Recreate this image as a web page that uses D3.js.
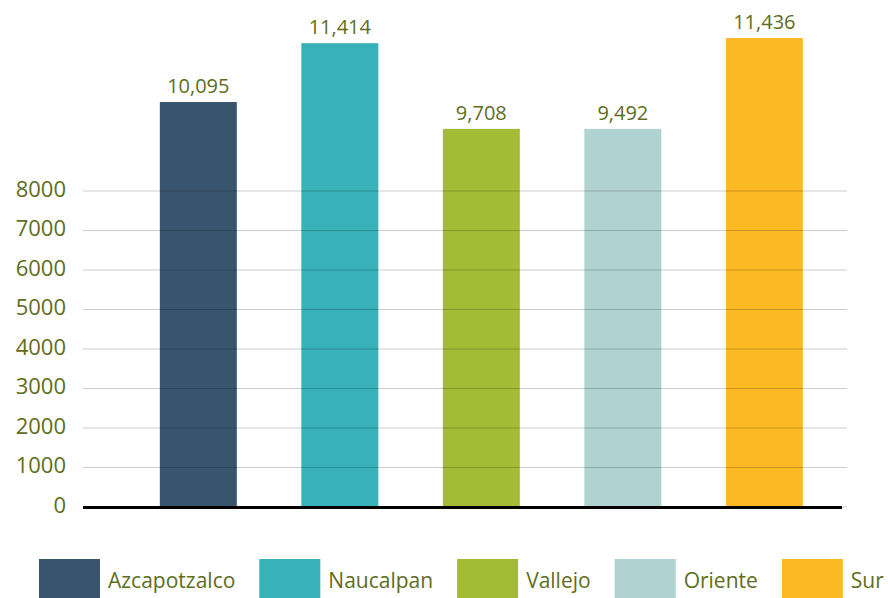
<!DOCTYPE html>
<html>
<head>
<meta charset="utf-8">
<script src="https://cdn.jsdelivr.net/npm/d3@7"></script>
<style>
  body { margin: 0; background: #fff; }
  text { font-family: "Open Sans", Lato, sans-serif; font-weight: 400; fill: #5e6d20; }
</style>
</head>
<body>
<div id="vis"></div>
<script>
var categories = ["Azcapotzalco", "Naucalpan", "Vallejo", "Oriente", "Sur"];
// numbers printed above the bars
var labels = [10095, 11414, 9708, 9492, 11436];
var heights = [10240, 11730, 9560, 9560, 11860];
var colors = ["#39546e", "#38b1b9", "#a4bb35", "#b0d2d1", "#fbb923"];
var ticks = [0, 1000, 2000, 3000, 4000, 5000, 6000, 7000, 8000];

var width = 888, height = 598;

var svg = d3.select("#vis")
  .append("svg")
  .attr("width", width)
  .attr("height", height);

var scales = {
  x: d3.scaleBand()
    .domain(categories)
    .range([83, 847])
    .paddingInner(0.456)
    .paddingOuter(0.4275)
    .align(0.635),
  y: d3.scaleLinear()
    .domain([0, 8000])
    .range([506.5, 190.5])
};

// bars
svg.selectAll(".bar")
  .data(categories)
  .enter()
  .append("rect")
  .attr("class", "bar")
  .attr("x", function(d) { return scales.x(d); })
  .attr("width", scales.x.bandwidth())
  .attr("y", function(d, i) { return scales.y(heights[i]); })
  .attr("height", function(d, i) { return scales.y(0) - scales.y(heights[i]); })
  .attr("fill", function(d, i) { return colors[i]; });

// y axis: gridlines drawn over the bars, labels on the left
var y_axis = d3.axisLeft(scales.y)
  .tickValues(ticks)
  .tickSize(-(847 - 83))
  .tickPadding(17)
  .tickFormat(d3.format("d"));

svg.append("g")
  .attr("class", "y_axis")
  .attr("transform", "translate(83,0)")
  .call(y_axis)
  .call(function(g) {
    g.select(".domain").remove();
    g.selectAll("line")
      .attr("stroke", "#000")
      .attr("stroke-opacity", 0.2);
    g.selectAll("text")
      .attr("fill", "#5e6d20")
      .style("font-size", "22px")
      .style("font-family", "'Open Sans', Lato, sans-serif")
      .attr("dy", "0.25em");
  });

// baseline
svg.append("line")
  .attr("x1", 83)
  .attr("x2", 842)
  .attr("y1", scales.y(0) + 1)
  .attr("y2", scales.y(0) + 1)
  .attr("stroke", "#000")
  .attr("stroke-width", 3);

// value labels
var fmt = d3.format(",");
svg.selectAll(".value")
  .data(categories)
  .enter()
  .append("text")
  .attr("class", "value")
  .attr("x", function(d) { return scales.x(d) + scales.x.bandwidth() / 2; })
  .attr("y", function(d, i) { return scales.y(heights[i]) - 9; })
  .attr("text-anchor", "middle")
  .style("font-size", "20px")
  .text(function(d, i) { return fmt(labels[i]); });

// legend, laid out left to right
var legend = svg.append("g").attr("class", "legend");
var lx = 39;
categories.forEach(function(d, i) {
  legend.append("rect")
    .attr("x", lx)
    .attr("y", 559)
    .attr("width", 61)
    .attr("height", 40)
    .attr("fill", colors[i]);
  var t = legend.append("text")
    .attr("x", lx + 61 + 8)
    .attr("y", 588)
    .style("font-size", "21px")
    .text(d);
  lx += 61 + 8 + t.node().getComputedTextLength() + 24;
});
</script>
</body>
</html>
